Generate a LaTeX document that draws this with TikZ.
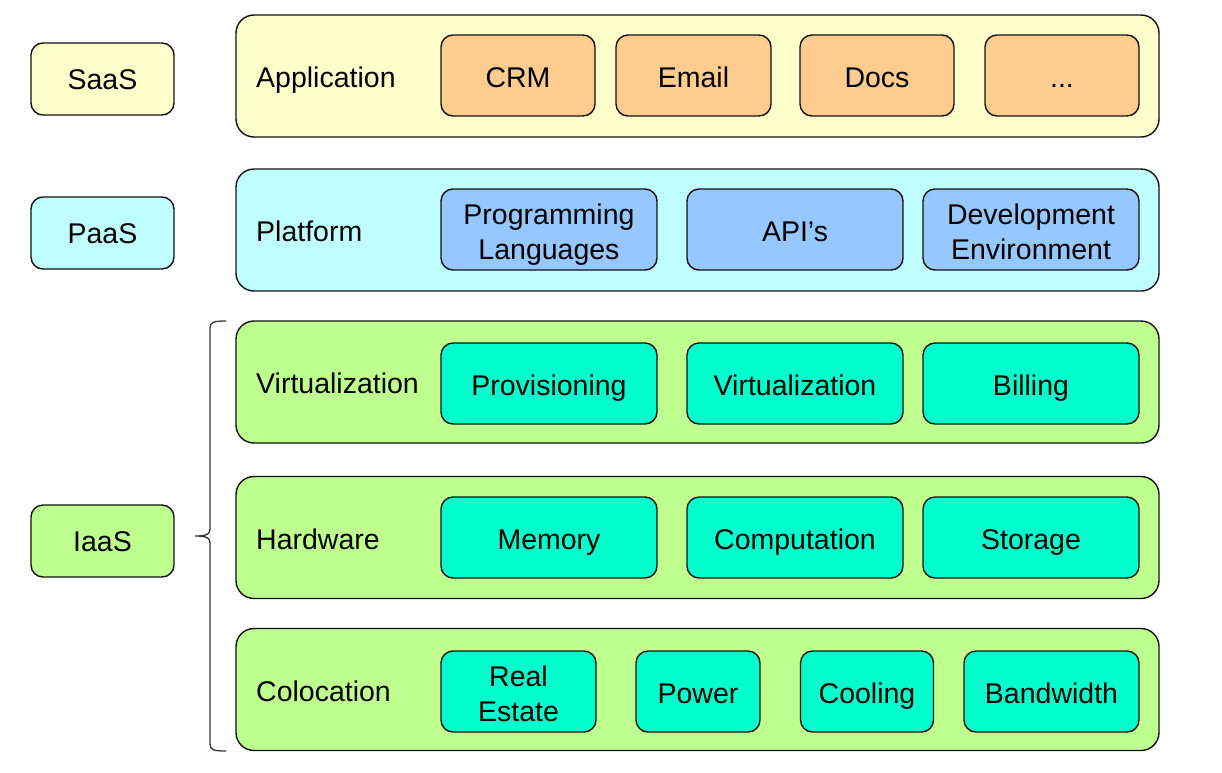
\documentclass[tikz,border=0pt]{standalone}
\usepackage{fontspec}
\setmainfont{Liberation Sans}
\definecolor{yellowfill}{HTML}{FFFFCC}
\definecolor{orangefill}{HTML}{FFCC90}
\definecolor{cyanfill}{HTML}{C0FFFF}
\definecolor{bluefill}{HTML}{94C8FF}
\definecolor{greenfill}{HTML}{BFFF90}
\definecolor{tealfill}{HTML}{00FFCC}
\definecolor{edge}{HTML}{111111}
\newcommand{\twolines}[3]{\raisebox{-2pt}{\parbox[t]{#1}{\centering #2\\#3}}}
\begin{document}
\begin{tikzpicture}[x=1pt,y=-1pt,
  base/.style={draw=edge, line width=1.4pt, inner sep=0pt, font=\fontsize{28.5}{35}\selectfont},
  outer/.style={base, rounded corners=18pt, minimum width=923pt, minimum height=122pt},
  side/.style={base, rounded corners=12pt, minimum width=143pt, minimum height=72pt, text height=21pt, text depth=0pt},
  inner/.style={base, rounded corners=12pt, minimum height=81pt, text height=21pt, text depth=0pt},
  innertwo/.style={base, rounded corners=12pt, minimum height=81pt, text height=21pt, text depth=35pt},
  rowlabel/.style={inner sep=0pt, anchor=west, font=\fontsize{28.5}{35}\selectfont, text height=21pt, text depth=0pt},
  brace/.style={draw=edge!85, line width=1.3pt}
]
\useasboundingbox (0,0) rectangle (1222,772);

% side labels
\node[side, fill=yellowfill] (saas) at (102.5,79) {SaaS};
\node[side, fill=cyanfill] (paas) at (102.5,233) {PaaS};
\node[side, fill=greenfill] (iaas) at (102.5,541) {IaaS};

% rows
\node[outer, fill=yellowfill] (app) at (697.5,76) {};
\node[outer, fill=cyanfill] (plat) at (697.5,230) {};
\node[outer, fill=greenfill] (virt) at (697.5,382) {};
\node[outer, fill=greenfill] (hw) at (697.5,537.5) {};
\node[outer, fill=greenfill] (coloc) at (697.5,689.5) {};

\node[rowlabel] (appl) at (256,77) {Application};
\node[rowlabel] (platl) at (256,231) {Platform};
\node[rowlabel] (virtl) at (256,383) {Virtualization};
\node[rowlabel] (hwl) at (256,539) {Hardware};
\node[rowlabel] (colocl) at (256,691) {Colocation};

% application
\node[inner, fill=orangefill, minimum width=154pt] (crm) at (518,75.5) {\raisebox{-1pt}{CRM}};
\node[inner, fill=orangefill, minimum width=155pt] (email) at (693.5,75.5) {\raisebox{-1pt}{Email}};
\node[inner, fill=orangefill, minimum width=154pt] (docs) at (877,75.5) {\raisebox{-1pt}{Docs}};
\node[inner, fill=orangefill, minimum width=154pt] (more) at (1062,75.5) {\raisebox{-1pt}{...}};

% platform
\node[innertwo, fill=bluefill, minimum width=216pt] (prog) at (549,229.5) {\twolines{200pt}{Programming}{Languages}};
\node[inner, fill=bluefill, minimum width=216pt] (api) at (795,229.5) {\raisebox{-1pt}{API’s}};
\node[innertwo, fill=bluefill, minimum width=216pt] (dev) at (1031,229.5) {\twolines{200pt}{Development}{Environment}};

% virtualization
\node[inner, fill=tealfill, minimum width=216pt] (prov) at (549,383.5) {\raisebox{-1pt}{Provisioning}};
\node[inner, fill=tealfill, minimum width=216pt] (virtb) at (795,383.5) {\raisebox{-1pt}{Virtualization}};
\node[inner, fill=tealfill, minimum width=216pt] (bill) at (1031,383.5) {\raisebox{-1pt}{Billing}};

% hardware
\node[inner, fill=tealfill, minimum width=216pt] (mem) at (549,537.5) {\raisebox{-1pt}{Memory}};
\node[inner, fill=tealfill, minimum width=216pt] (comp) at (795,537.5) {\raisebox{-1pt}{Computation}};
\node[inner, fill=tealfill, minimum width=216pt] (stor) at (1031,537.5) {\raisebox{-1pt}{Storage}};

% colocation
\node[innertwo, fill=tealfill, minimum width=155pt] (real) at (518.5,691.5) {\twolines{130pt}{Real}{Estate}};
\node[inner, fill=tealfill, minimum width=124pt] (power) at (698,691.5) {\raisebox{-1pt}{Power}};
\node[inner, fill=tealfill, minimum width=133pt] (cool) at (867,691.5) {\raisebox{-1pt}{Cooling}};
\node[inner, fill=tealfill, minimum width=175pt] (band) at (1051.5,691.5) {\raisebox{-1pt}{Bandwidth}};

% brace
\draw[brace] (226,321) .. controls (214,321) and (210,322) .. (210,328)
  -- (210,529) .. controls (210,534) and (207,536) .. (195,536)
  .. controls (207,536) and (210,538) .. (210,543)
  -- (210,744) .. controls (210,750) and (214,751) .. (226,751);
\end{tikzpicture}
\end{document}
